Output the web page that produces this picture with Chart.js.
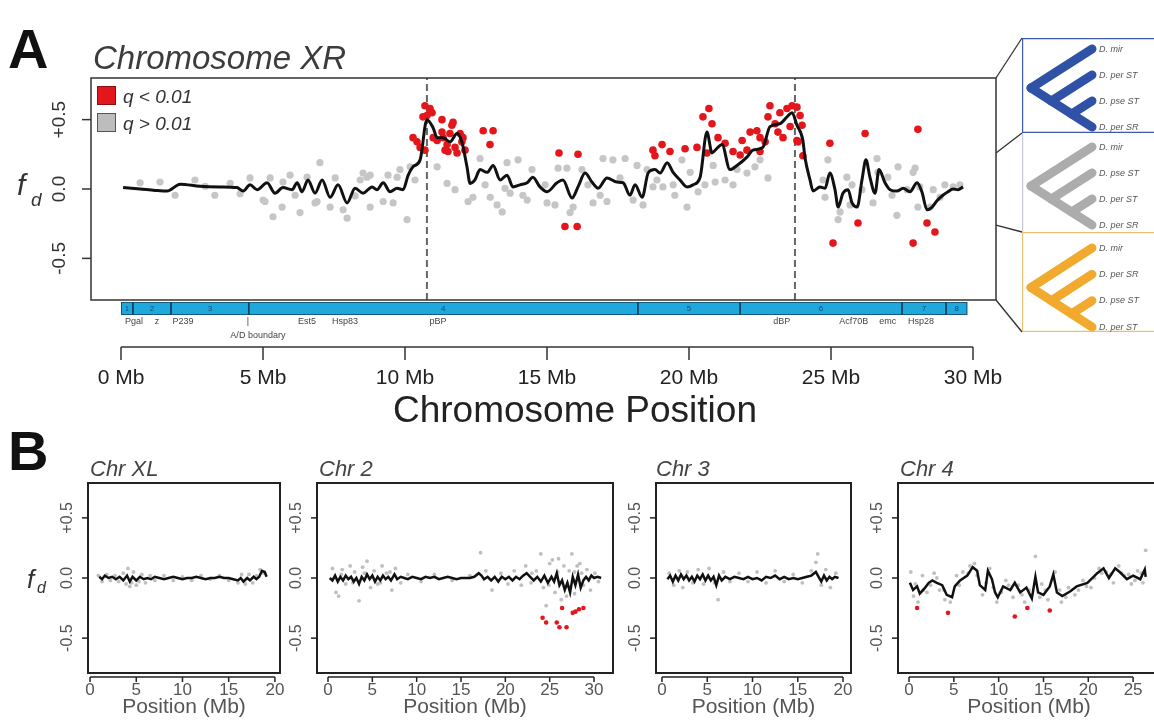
<!DOCTYPE html>
<html>
<head>
<meta charset="utf-8">
<title>fd along Drosophila chromosomes</title>
<script src="https://cdn.jsdelivr.net/npm/chart.js@4.4.1/dist/chart.umd.min.js"></script>
<style>
  body { margin: 0; background: #fff; font-family: "Liberation Sans", Arial, sans-serif; }
  #fig { position: relative; width: 1154px; height: 721px; overflow: hidden; }
  #fig canvas, #fig .lbl { position: absolute; }
  .lbl { line-height: 1; white-space: nowrap; color: #333; }
</style>
</head>
<body>
<div id="fig">
  <canvas id="xrChart" width="1154" height="340" style="left:0;top:0"></canvas>
  <canvas id="barChart" width="1154" height="110" style="left:0;top:290px"></canvas>
  <canvas id="tree1" width="140" height="95" style="left:1022px;top:38px"></canvas>
  <canvas id="tree2" width="140" height="99" style="left:1022px;top:133px"></canvas>
  <canvas id="tree3" width="140" height="100" style="left:1022px;top:232px"></canvas>
  <canvas id="chrXL" width="290" height="281" style="left:0;top:440px"></canvas>
  <canvas id="chr2" width="366" height="281" style="left:257px;top:440px"></canvas>
  <canvas id="chr3" width="265" height="281" style="left:596px;top:440px"></canvas>
  <canvas id="chr4" width="332" height="281" style="left:838px;top:440px"></canvas>

  <div class="lbl" style="left:8px;top:21px;font-size:56px;font-weight:bold;color:#111">A</div>
  <div class="lbl" style="left:93px;top:41px;font-size:33px;font-style:italic;color:#3c3c3c">Chromosome XR</div>
  <div class="lbl" style="left:17px;top:170px;font-size:30px;font-style:italic">f</div>
  <div class="lbl" style="left:31px;top:190px;font-size:19px;font-style:italic">d</div>
  <div class="lbl" style="left:393px;top:391px;font-size:37px;color:#222">Chromosome Position</div>

  <div class="lbl" style="left:8px;top:423px;font-size:56px;font-weight:bold;color:#111">B</div>
  <div class="lbl" style="left:90px;top:458px;font-size:22px;font-style:italic;color:#444">Chr XL</div>
  <div class="lbl" style="left:319px;top:458px;font-size:22px;font-style:italic;color:#444">Chr 2</div>
  <div class="lbl" style="left:656px;top:458px;font-size:22px;font-style:italic;color:#444">Chr 3</div>
  <div class="lbl" style="left:900px;top:458px;font-size:22px;font-style:italic;color:#444">Chr 4</div>
  <div class="lbl" style="left:27px;top:566px;font-size:26px;font-style:italic">f</div>
  <div class="lbl" style="left:37px;top:580px;font-size:16px;font-style:italic">d</div>
</div>

<script>
// ---- Chromosome XR (panel A), [position Mb, fd] ----
const xrLine = [[0.07,0.01],[0.67,0.0],[1.2,-0.01],[1.62,-0.015],[2.08,0.035],[2.78,0.02],[3.49,0.015],[4.08,0.01],[4.3,-0.015],[4.54,0.03],[4.79,-0.005],[5.14,0.045],[5.42,-0.03],[5.7,0.01],[6.02,-0.005],[6.2,0.045],[6.37,-0.02],[6.58,0.065],[6.83,-0.03],[7.08,0.065],[7.36,-0.06],[7.64,0.03],[7.96,-0.1],[8.24,0.005],[8.52,-0.03],[8.84,0.015],[9.01,-0.005],[9.23,0.045],[9.47,-0.02],[9.72,0.005],[9.93,-0.005],[10.11,0.1],[10.28,0.16],[10.53,0.21],[10.77,0.5],[10.99,0.44],[11.13,0.37],[11.34,0.37],[11.58,0.34],[11.83,0.4],[12.0,0.34],[12.18,0.16],[12.29,0.04],[12.46,0.065],[12.64,0.14],[12.89,0.12],[13.1,0.17],[13.35,0.065],[13.59,0.1],[13.8,0.015],[14.05,0.03],[14.3,0.045],[14.5,0.085],[14.75,0.015],[15.0,-0.02],[15.35,0.045],[15.56,0.065],[15.88,-0.065],[16.09,0.015],[16.34,0.115],[16.58,0.05],[16.8,0.005],[17.11,0.08],[17.46,0.05],[17.68,0.045],[17.92,-0.045],[18.1,0.03],[18.35,-0.06],[18.56,0.115],[18.8,0.14],[18.98,0.115],[19.23,0.19],[19.44,0.12],[19.68,0.065],[19.93,0.015],[20.14,0.03],[20.39,0.085],[20.63,0.41],[20.81,0.26],[20.99,0.295],[21.16,0.32],[21.44,0.14],[21.69,0.17],[22.04,0.23],[22.25,0.28],[22.6,0.3],[22.85,0.45],[23.2,0.47],[23.45,0.52],[23.63,0.55],[23.8,0.46],[24.01,0.35],[24.08,0.23],[24.26,0.065],[24.37,-0.015],[24.61,0.015],[24.79,0.005],[24.96,0.115],[25.14,-0.005],[25.25,-0.13],[25.42,-0.03],[25.6,-0.005],[25.74,-0.1],[25.92,-0.13],[26.09,0.065],[26.23,0.21],[26.37,0.085],[26.55,-0.03],[26.69,0.14],[26.9,0.045],[27.08,-0.005],[27.32,-0.015],[27.54,0.005],[27.78,-0.02],[28.03,0.045],[28.2,-0.02],[28.38,-0.15],[28.56,-0.13],[28.73,-0.085],[28.94,-0.045],[29.12,-0.02],[29.3,0.0],[29.47,-0.005],[29.65,0.015]];
const xrGray = [[0.67,0.045],[1.37,0.05],[1.9,-0.045],[2.6,0.065],[2.96,0.02],[3.3,-0.045],[3.84,0.04],[4.19,-0.035],[4.54,0.08],[5.0,-0.08],[5.07,-0.09],[5.25,0.08],[5.35,-0.2],[5.67,-0.13],[5.7,0.05],[5.95,0.1],[6.13,-0.045],[6.3,-0.17],[6.55,0.085],[6.83,-0.1],[6.9,-0.09],[7.0,0.19],[7.36,-0.13],[7.54,0.08],[7.82,-0.15],[7.96,-0.21],[8.24,-0.05],[8.42,0.065],[8.52,0.115],[8.66,0.085],[8.77,0.1],[8.77,-0.13],[9.23,-0.09],[9.4,0.1],[9.58,-0.1],[9.72,0.085],[9.82,0.14],[10.07,-0.22],[10.18,0.16],[10.35,0.065],[11.13,0.16],[11.48,0.04],[11.76,-0.005],[12.22,-0.09],[12.39,-0.06],[12.64,0.22],[12.82,0.03],[13.0,-0.06],[13.24,-0.115],[13.42,-0.165],[13.52,0.005],[13.59,0.19],[13.7,-0.03],[13.98,0.21],[14.15,-0.045],[14.3,-0.08],[14.47,0.14],[14.93,0.03],[15.0,-0.1],[15.28,-0.115],[15.39,0.15],[15.7,0.15],[15.81,-0.17],[15.92,-0.13],[16.23,0.14],[16.44,0.03],[16.62,-0.1],[16.87,-0.045],[16.97,0.22],[17.11,-0.09],[17.32,0.21],[17.57,0.08],[17.75,0.22],[18.03,-0.08],[18.17,0.17],[18.38,-0.115],[18.52,0.14],[18.73,0.015],[18.87,0.065],[19.08,0.015],[19.44,0.03],[19.5,-0.045],[19.75,0.21],[19.93,-0.13],[20.04,0.12],[20.32,-0.02],[20.56,0.03],[20.85,0.17],[20.92,0.05],[21.27,0.065],[21.55,0.03],[21.69,0.14],[22.04,0.115],[22.32,0.16],[22.5,0.21],[22.78,0.08],[24.72,0.065],[24.79,-0.06],[24.89,0.21],[25.25,-0.22],[25.32,-0.165],[25.56,0.085],[25.67,-0.115],[25.74,0.03],[26.09,-0.005],[26.48,-0.1],[26.62,0.22],[26.65,0.12],[27.0,0.085],[27.15,-0.045],[27.32,-0.19],[27.36,0.16],[27.68,-0.005],[27.89,0.12],[27.96,0.15],[28.06,-0.13],[28.13,0.015],[28.49,-0.13],[28.6,-0.005],[28.84,-0.06],[29.01,0.03],[29.3,0.015],[29.54,0.03]];
const xrRed = [[10.28,0.37],[10.42,0.34],[10.53,0.3],[10.7,0.6],[10.88,0.58],[10.95,0.55],[10.77,0.53],[10.63,0.52],[10.7,0.28],[10.99,0.37],[11.13,0.35],[11.3,0.5],[11.3,0.41],[11.34,0.37],[11.48,0.32],[11.51,0.27],[11.65,0.46],[11.69,0.48],[11.76,0.3],[11.83,0.26],[11.94,0.4],[12.0,0.34],[12.11,0.28],[12.04,0.37],[11.58,0.4],[11.41,0.28],[12.75,0.42],[13.1,0.42],[12.99,0.32],[15.42,0.26],[16.09,0.25],[15.63,-0.27],[16.06,-0.27],[18.73,0.28],[18.8,0.24],[19.05,0.32],[19.33,0.27],[19.86,0.29],[20.28,0.3],[20.49,0.52],[20.7,0.58],[20.81,0.47],[20.63,0.26],[21.02,0.37],[21.27,0.33],[21.55,0.27],[21.8,0.245],[21.87,0.35],[22.04,0.28],[22.15,0.41],[22.39,0.42],[22.5,0.37],[22.5,0.27],[22.68,0.34],[22.85,0.6],[22.78,0.52],[23.03,0.47],[23.13,0.41],[23.31,0.37],[23.2,0.55],[23.45,0.58],[23.56,0.45],[23.63,0.6],[23.8,0.59],[23.8,0.35],[23.84,0.34],[23.91,0.53],[23.98,0.46],[24.01,0.24],[24.96,0.33],[26.2,0.4],[28.06,0.43],[25.07,-0.39],[25.95,-0.245],[27.89,-0.39],[28.38,-0.245],[28.66,-0.31]];
const breakpoints = [10.77, 23.73];   // pBP, dBP
const fdTicks = [-0.5, 0, 0.5];
const fdTickLabels = ['-0.5', '0.0', '+0.5'];

// chromosome band bar under panel A
const segmentEdges = [0, 0.42, 1.76, 4.5, 18.2, 21.8, 27.5, 29.05, 29.8];
const geneNames = ['Pgal', 'z', 'P239', 'Est5', 'Hsp83', 'pBP', 'dBP', 'Acf70B', 'emc', 'Hsp28'];
const genePos = [0.46, 1.27, 2.18, 6.55, 7.89, 11.16, 23.27, 25.8, 27.0, 28.17];
const adBoundary = 4.47;
const xrAxisTicks = [0, 5, 10, 15, 20, 25, 30];

// topologies to the right; fd limits that map onto each tree
const treeLimits = [0.8, 0.26, -0.26, -0.8];
const treeNames = [
  ['D. mir', 'D. per ST', 'D. pse ST', 'D. per SR'],
  ['D. mir', 'D. pse ST', 'D. per ST', 'D. per SR'],
  ['D. mir', 'D. per SR', 'D. pse ST', 'D. per ST']
];
const treeColors = ['#2f52a6', '#acacac', '#f2aa2e'];
const treeBoxColors = ['#3d5aa8', '#c5c8d8', '#e6c373'];

// ---- panel B ----
const xlLine = [[1,0.01],[1.3,-0.01],[1.6,0.02],[2,0],[2.4,0.01],[2.8,-0.01],[3.2,0.01],[3.6,-0.02],[4,0.02],[4.3,-0.03],[4.6,0.01],[5,-0.02],[5.4,0.01],[5.8,-0.01],[6.2,0],[6.6,-0.01],[7,0.01],[7.5,0],[8,-0.01],[8.5,0],[9,0.01],[9.5,0],[10,-0.01],[10.5,0],[11,0],[11.5,0.01],[12,0],[12.5,-0.01],[13,0],[13.5,0],[14,0.01],[14.5,0],[15,0],[15.5,-0.01],[16,-0.02],[16.3,0],[16.6,-0.03],[17,0],[17.3,-0.02],[17.7,0.01],[18,-0.01],[18.3,0.01],[18.6,0.06],[18.9,0.05],[19.1,0.01]];
const xlGray = [[0.9,0.02],[1.3,-0.03],[1.8,0.03],[2.2,-0.02],[2.7,0.02],[3.1,-0.03],[3.6,0.04],[3.9,-0.05],[4.1,0.08],[4.3,-0.07],[4.5,-0.04],[4.7,0.05],[5,-0.06],[5.3,-0.03],[5.6,0.03],[6,-0.04],[6.5,0.02],[7,-0.02],[8,0.02],[9,-0.02],[10,0.01],[11,-0.02],[12,0.02],[13,-0.01],[14,0.02],[15,-0.02],[16,-0.04],[16.4,0.03],[16.8,-0.05],[17.2,0.03],[17.6,-0.04],[18,0.02],[18.4,0.07],[18.8,0.04]];
const chr2Line = [[0.2,0],[0.5,-0.02],[0.8,0.02],[1.1,-0.03],[1.4,0.01],[1.7,-0.02],[2.0,0.02],[2.3,-0.01],[2.6,0.01],[2.9,-0.03],[3.2,0.0],[3.5,-0.05],[3.8,0.01],[4.1,-0.02],[4.4,0.03],[4.7,-0.01],[5.0,0.02],[5.3,-0.03],[5.6,0.01],[5.9,-0.02],[6.2,0.02],[6.5,-0.01],[6.8,0.01],[7.1,-0.02],[7.5,0.03],[7.8,-0.01],[8.2,0.01],[8.6,0],[9,-0.01],[9.5,0.01],[10,0],[10.5,-0.01],[11,0.01],[11.5,0],[12,0.01],[12.5,-0.01],[13,0],[13.5,0.01],[14,0],[14.5,-0.01],[15,0],[15.5,0],[16,0],[16.5,0.01],[17,0.04],[17.3,0.02],[17.6,-0.01],[18,0.01],[18.4,-0.02],[18.8,0.01],[19.2,-0.03],[19.6,0.01],[20,-0.01],[20.4,0.01],[20.8,-0.02],[21.2,0.01],[21.6,-0.01],[22,0.02],[22.4,0.04],[22.8,0.01],[23.2,-0.02],[23.6,0.01],[24,-0.03],[24.4,0.02],[24.8,-0.04],[25.2,0.01],[25.5,-0.03],[25.8,0.04],[26.1,-0.06],[26.4,-0.02],[26.7,-0.1],[27,-0.04],[27.3,-0.12],[27.6,0.01],[27.9,-0.06],[28.2,0.03],[28.5,-0.08],[28.8,-0.02],[29.1,0.01],[29.4,-0.02],[29.7,0.02],[30,0],[30.4,0.01],[30.8,0]];
const chr2Gray = [[0.5,0.08],[0.9,-0.12],[1.2,-0.15],[1.6,0.07],[2,-0.05],[2.5,0.1],[3,0.05],[3.5,-0.19],[3.9,0.09],[4.4,0.14],[4.8,-0.08],[5.2,0.06],[5.6,-0.05],[6.1,0.1],[6.6,0.04],[7.2,-0.1],[7.6,0.08],[8.2,-0.04],[9,0.03],[10.5,-0.03],[12,0.03],[14,-0.02],[16,0.02],[17.2,0.21],[17.8,0.06],[18.5,-0.1],[19.5,0.04],[20.3,-0.05],[21,0.06],[21.8,-0.06],[22.3,0.1],[22.9,-0.04],[23.5,0.06],[24,0.2],[24.3,-0.08],[24.6,-0.23],[25,0.12],[25.3,0.15],[25.6,-0.12],[26,0.16],[26.3,-0.18],[26.6,0.1],[26.9,-0.15],[27.2,0.06],[27.5,0.2],[27.8,-0.13],[28.1,0.1],[28.4,0.12],[28.8,-0.06],[29.2,0.07],[29.6,-0.1],[30.1,0.04],[30.5,-0.03],[1.5,0.03],[2.8,-0.04],[4.1,0.04],[5.9,-0.04],[7,0.05],[23,0.04],[24.9,-0.06],[25.9,0.05],[26.8,-0.07],[27.8,0.05],[28.6,0.04]];
const chr2Red = [[24.2,-0.33],[24.6,-0.37],[25.8,-0.37],[26.1,-0.41],[26.4,-0.25],[26.9,-0.41],[27.6,-0.29],[27.9,-0.28],[28.3,-0.26],[28.8,-0.25]];
const chr3Line = [[0.6,-0.01],[0.9,0.02],[1.2,-0.03],[1.5,0.02],[1.8,-0.02],[2.1,0.03],[2.4,-0.01],[2.7,0.02],[3,-0.02],[3.3,0.01],[3.6,-0.03],[3.9,0.02],[4.2,-0.01],[4.5,0.03],[4.8,-0.02],[5.1,0.02],[5.4,-0.02],[5.7,0.01],[6,-0.06],[6.3,0.02],[6.6,-0.02],[7,0.01],[7.5,-0.01],[8,0.01],[8.5,0],[9,-0.01],[9.5,0.01],[10,-0.01],[10.5,0],[11,-0.02],[11.5,0.01],[12,0],[12.5,0.02],[13,-0.01],[13.5,0.01],[14,-0.01],[14.5,0],[15,-0.01],[15.5,0],[16,0.01],[16.5,0.02],[17,0.05],[17.3,0.01],[17.6,-0.03],[17.9,0.02],[18.2,-0.02],[18.5,0.01],[18.8,-0.01],[19.1,0.01],[19.5,0]];
const chr3Gray = [[0.8,0.04],[1.3,-0.06],[1.9,0.06],[2.3,-0.08],[2.8,0.05],[3.4,-0.04],[4,0.07],[4.6,-0.05],[5.2,0.08],[5.8,-0.04],[6.2,-0.18],[6.8,0.05],[7.5,-0.03],[8.5,0.04],[9.5,-0.03],[10.5,0.05],[11.5,-0.04],[12.5,0.06],[13.5,-0.03],[14.5,0.03],[15.5,-0.04],[16.5,0.06],[17,0.13],[17.2,0.2],[17.6,-0.06],[18.1,0.07],[18.6,-0.08],[19.2,0.04]];
const chr4Line = [[0.1,-0.04],[0.45,-0.1],[0.9,-0.07],[1.2,-0.13],[1.8,-0.08],[2.2,-0.04],[2.6,-0.02],[3.1,-0.04],[3.7,-0.06],[4.2,-0.14],[4.8,-0.16],[5.1,-0.07],[5.7,-0.02],[6.5,0.02],[7.1,0.09],[7.6,0.06],[7.9,-0.06],[8.5,-0.1],[8.8,0.06],[9.25,-0.01],[9.6,-0.12],[9.9,-0.16],[10.5,-0.07],[11.3,-0.1],[11.8,-0.04],[12.4,-0.12],[13.1,-0.08],[13.7,-0.17],[14.1,0.01],[14.4,-0.12],[15,-0.14],[15.7,-0.07],[16.1,0.03],[16.5,-0.12],[17.1,-0.15],[18,-0.11],[18.7,-0.07],[19.9,-0.04],[21,0.04],[21.7,0.08],[22.3,0],[23,0.08],[23.5,0.05],[24.3,-0.01],[25,0.02],[25.8,-0.01],[26.3,0.07],[26.4,0.01]];
const chr4Gray = [[0.2,0.05],[0.5,-0.15],[1,-0.2],[1.5,0.02],[2,-0.12],[2.8,0.04],[3.4,-0.1],[4,-0.18],[4.6,-0.2],[5.3,0.02],[6,0.05],[6.8,0.1],[7.3,0.12],[8.2,-0.14],[9,0.08],[9.8,-0.2],[10.8,-0.02],[11.6,-0.16],[12.2,-0.06],[12.9,-0.2],[14.1,0.18],[14.8,-0.05],[15.5,-0.18],[16.3,0.05],[17,-0.2],[17.8,-0.08],[18.5,-0.14],[19.4,-0.02],[20.3,-0.08],[21.2,0.08],[22,0.05],[22.8,-0.04],[23.4,0.1],[24,0.02],[24.8,-0.05],[25.5,0.06],[26.1,-0.04],[26.4,0.23],[0.7,-0.05],[1.6,-0.1],[2.4,-0.06],[3.1,0.0],[3.9,-0.1],[5.6,-0.06],[6.6,0.04],[7.6,0.02],[8.6,-0.04],[9.4,-0.08],[10.3,-0.12],[11.1,-0.06],[12.6,-0.14],[13.4,-0.1],[14.6,-0.16],[15.2,-0.1],[16.8,-0.1],[17.5,-0.16],[18.9,-0.1],[19.8,-0.07],[20.7,0.0],[21.5,0.04],[22.5,0.03],[23.7,0.04],[24.5,0.03],[25.2,-0.02],[25.9,0.04]];
const chr4Red = [[0.9,-0.25],[4.35,-0.29],[11.8,-0.32],[13.2,-0.25],[15.7,-0.27]];

const FONT = '"Liberation Sans", Arial, sans-serif';
const pts = arr => arr.map(p => ({ x: p[0], y: p[1] }));
const baseOptions = {
    responsive: false,
    animation: false,
    events: [],
    plugins: { legend: { display: false }, tooltip: { enabled: false } }
};

// ---------- Panel A: fd along XR ----------
const xrDecor = {
    id: 'xrDecor',
    afterDraw(chart) {
        const c = chart.ctx, a = chart.chartArea, ys = chart.scales.y;
        c.save();
        c.strokeStyle = '#333';
        c.lineWidth = 1.5;
        c.strokeRect(a.left, a.top, a.right - a.left, a.bottom - a.top);

        // y ticks, labels turned like R's las=0
        c.fillStyle = '#333';
        c.font = '19px ' + FONT;
        c.textAlign = 'center';
        c.textBaseline = 'middle';
        fdTicks.forEach((v, i) => {
            const y = ys.getPixelForValue(v);
            c.beginPath(); c.moveTo(a.left - 9, y); c.lineTo(a.left, y); c.stroke();
            c.save(); c.translate(a.left - 31, y); c.rotate(-Math.PI / 2);
            c.fillText(fdTickLabels[i], 0, 0);
            c.restore();
        });

        // legend
        const lx = a.left + 6;
        [['#e3161b', '#8a1010', 'q < 0.01', 8], ['#bdbdbd', '#555', 'q > 0.01', 35]].forEach(l => {
            c.fillStyle = l[0]; c.strokeStyle = l[1]; c.lineWidth = 1;
            c.fillRect(lx, a.top + l[3], 19, 19);
            c.strokeRect(lx + 0.5, a.top + l[3] + 0.5, 18, 18);
            c.fillStyle = '#333';
            c.font = 'italic 19px ' + FONT;
            c.textAlign = 'left';
            c.textBaseline = 'alphabetic';
            c.fillText(l[2], lx + 26, a.top + l[3] + 17);
        });

        // connectors to the three topology boxes
        const boxEdges = [38, 133, 232, 332];
        c.strokeStyle = '#333';
        c.lineWidth = 1.3;
        treeLimits.forEach((v, i) => {
            c.beginPath();
            c.moveTo(a.right, ys.getPixelForValue(v));
            c.lineTo(1022, boxEdges[i]);
            c.stroke();
        });
        c.restore();
    }
};

new Chart(document.getElementById('xrChart').getContext('2d'), {
    type: 'scatter',
    data: {
        datasets: [
            { data: pts(xrLine), showLine: true, borderColor: '#111', borderWidth: 3, pointRadius: 0,
              cubicInterpolationMode: 'monotone', order: 0 },
            { data: pts(xrRed), backgroundColor: '#e3161b', borderWidth: 0, pointRadius: 3.8, order: 1 },
            { data: pts(xrGray), backgroundColor: '#c6c6c6', borderWidth: 0, pointRadius: 3.6, order: 2 },
            ...breakpoints.map(b => ({
                data: [{ x: b, y: -0.8 }, { x: b, y: 0.8 }], showLine: true, borderColor: '#666',
                borderWidth: 2, borderDash: [7, 4], pointRadius: 0, order: 3
            }))
        ]
    },
    options: {
        ...baseOptions,
        layout: { padding: { left: 91, right: 158, top: 78, bottom: 40 } },
        scales: {
            x: { type: 'linear', display: false, min: -1.06, max: 30.81 },
            y: { display: false, min: -0.8, max: 0.8 }
        }
    },
    plugins: [xrDecor]
});

// ---------- chromosome band + position axis ----------
const barDecor = {
    id: 'barDecor',
    afterDraw(chart) {
        const c = chart.ctx, a = chart.chartArea, xs = chart.scales.x;
        c.save();
        c.textAlign = 'center';
        c.textBaseline = 'middle';
        c.font = '8px ' + FONT;
        c.fillStyle = '#1a4a7a';
        for (let i = 0; i < segmentEdges.length - 1; i++) {
            c.fillText(String(i + 1), xs.getPixelForValue((segmentEdges[i] + segmentEdges[i + 1]) / 2), (a.top + a.bottom) / 2);
        }
        c.font = '9px ' + FONT;
        c.fillStyle = '#444';
        geneNames.forEach((g, i) => c.fillText(g, xs.getPixelForValue(genePos[i]), a.bottom + 7));
        c.fillText('|', xs.getPixelForValue(adBoundary), a.bottom + 7);
        c.fillText('A/D boundary', xs.getPixelForValue(adBoundary + 0.35), a.bottom + 21);

        // axis
        const ay = a.bottom + 32;
        c.strokeStyle = '#333';
        c.lineWidth = 1.5;
        c.beginPath();
        c.moveTo(xs.getPixelForValue(xrAxisTicks[0]), ay);
        c.lineTo(xs.getPixelForValue(xrAxisTicks[xrAxisTicks.length - 1]), ay);
        c.stroke();
        c.font = '21px ' + FONT;
        c.fillStyle = '#222';
        xrAxisTicks.forEach(t => {
            const x = xs.getPixelForValue(t);
            c.beginPath(); c.moveTo(x, ay); c.lineTo(x, ay + 13); c.stroke();
            c.fillText(t + ' Mb', x, ay + 31);
        });
        c.restore();
    }
};

new Chart(document.getElementById('barChart').getContext('2d'), {
    type: 'bar',
    data: {
        labels: ['XR'],
        datasets: segmentEdges.slice(0, -1).map((s, i) => ({
            data: [[s, segmentEdges[i + 1]]],
            backgroundColor: '#1ea8db',
            borderColor: '#173f5f',
            borderWidth: 1.2,
            borderSkipped: false,
            grouped: false,
            barPercentage: 1,
            categoryPercentage: 1
        }))
    },
    options: {
        ...baseOptions,
        indexAxis: 'y',
        layout: { padding: { left: 121, right: 181, top: 12, bottom: 85 } },
        scales: {
            x: { type: 'linear', display: false, min: 0, max: 30 },
            y: { display: false }
        }
    },
    plugins: [barDecor]
});

// ---------- the three topologies ----------
// diagonal cladogram: root at (0,1.5), tips at x=1, y=0..3
const treeBranches = [
    [[0, 1.5], [1, 0]],
    [[0, 1.5], [1, 3]],
    [[1 / 3, 2], [1, 1]],
    [[2 / 3, 2.5], [1, 2]]
];

function makeTree(id, k, padTop, padBottom, sides) {
    const deco = {
        id: 'treeDecor' + k,
        afterDraw(chart) {
            const c = chart.ctx, w = chart.width, h = chart.height, ys = chart.scales.y;
            c.save();
            c.strokeStyle = treeBoxColors[k];
            c.lineWidth = 1.2;
            c.beginPath();
            if (sides.top) { c.moveTo(0, 0.6); c.lineTo(w, 0.6); }
            c.moveTo(0.6, 0); c.lineTo(0.6, h);
            if (sides.bottom) { c.moveTo(0, h - 0.6); c.lineTo(w, h - 0.6); }
            c.stroke();
            c.fillStyle = '#555';
            c.font = 'italic 9px ' + FONT;
            c.textBaseline = 'middle';
            treeNames[k].forEach((n, i) => c.fillText(n, chart.chartArea.right + 7, ys.getPixelForValue(i)));
            c.restore();
        }
    };
    new Chart(document.getElementById(id).getContext('2d'), {
        type: 'scatter',
        data: {
            datasets: treeBranches.map(b => ({
                data: pts(b), showLine: true, borderColor: treeColors[k], borderWidth: 9,
                borderCapStyle: 'round', borderJoinStyle: 'round', pointRadius: 0, clip: false
            }))
        },
        options: {
            ...baseOptions,
            layout: { padding: { left: 9, right: 70, top: padTop, bottom: padBottom } },
            scales: {
                x: { type: 'linear', display: false, min: 0, max: 1 },
                y: { display: false, min: 0, max: 3, reverse: true }
            }
        },
        plugins: [deco]
    });
}

makeTree('tree1', 0, 11, 6, { top: true, bottom: true });
makeTree('tree2', 1, 14, 7, { top: false, bottom: false });
makeTree('tree3', 2, 16, 5, { top: true, bottom: true });

// ---------- Panel B: other chromosomes ----------
const chrDecor = {
    id: 'chrDecor',
    afterDraw(chart) {
        const c = chart.ctx, a = chart.chartArea, xs = chart.scales.x, ys = chart.scales.y;
        const ticks = chart.options.plugins.chrDecor.ticks;
        c.save();
        c.strokeStyle = '#222';
        c.lineWidth = 2;
        c.strokeRect(a.left, a.top, a.right - a.left, a.bottom - a.top);

        c.fillStyle = '#555';
        c.font = '16px ' + FONT;
        c.textAlign = 'center';
        c.textBaseline = 'middle';
        c.lineWidth = 1.5;
        fdTicks.forEach((v, i) => {
            const y = ys.getPixelForValue(v);
            c.beginPath(); c.moveTo(a.left - 6, y); c.lineTo(a.left, y); c.stroke();
            c.save(); c.translate(a.left - 20, y); c.rotate(-Math.PI / 2);
            c.fillText(fdTickLabels[i], 0, 0);
            c.restore();
        });

        const ay = a.bottom + 4;
        c.beginPath();
        c.moveTo(xs.getPixelForValue(ticks[0]), ay);
        c.lineTo(xs.getPixelForValue(ticks[ticks.length - 1]), ay);
        c.stroke();
        c.font = '17px ' + FONT;
        ticks.forEach(t => {
            const x = xs.getPixelForValue(t);
            c.beginPath(); c.moveTo(x, ay); c.lineTo(x, ay + 5); c.stroke();
            c.fillText(String(t), x, ay + 13);
        });
        c.font = '21px ' + FONT;
        c.textBaseline = 'alphabetic';
        c.fillText('Position (Mb)', (a.left + a.right) / 2, a.bottom + 40);
        c.restore();
    }
};

function makeChr(id, line, gray, red, xMin, xMax, ticks, padLeft) {
    const datasets = [
        { data: pts(line), showLine: true, borderColor: '#111', borderWidth: 2.5, pointRadius: 0, order: 0 },
        { data: pts(gray), backgroundColor: 'rgba(170,170,170,0.75)', borderWidth: 0, pointRadius: 1.9, order: 2 }
    ];
    if (red.length) {
        datasets.push({ data: pts(red), backgroundColor: '#e3161b', borderWidth: 0, pointRadius: 2.3, order: 1 });
    }
    new Chart(document.getElementById(id).getContext('2d'), {
        type: 'scatter',
        data: { datasets: datasets },
        options: {
            ...baseOptions,
            layout: { padding: { left: padLeft, right: 10, top: 43, bottom: 48 } },
            scales: {
                x: { type: 'linear', display: false, min: xMin, max: xMax },
                y: { display: false, min: -0.79, max: 0.79 }
            },
            plugins: { legend: { display: false }, tooltip: { enabled: false }, chrDecor: { ticks: ticks } }
        },
        plugins: [chrDecor]
    });
}

makeChr('chrXL', xlLine, xlGray, [], -0.22, 20.55, [0, 5, 10, 15, 20], 88);
makeChr('chr2', chr2Line, chr2Gray, chr2Red, -1.24, 32.14, [0, 5, 10, 15, 20, 25, 30], 60);
makeChr('chr3', chr3Line, chr3Gray, [], -0.66, 20.88, [0, 5, 10, 15, 20], 60);
makeChr('chr4', chr4Line, chr4Gray, chr4Red, -1.23, 28.0, [0, 5, 10, 15, 20, 25], 60);
</script>
</body>
</html>
